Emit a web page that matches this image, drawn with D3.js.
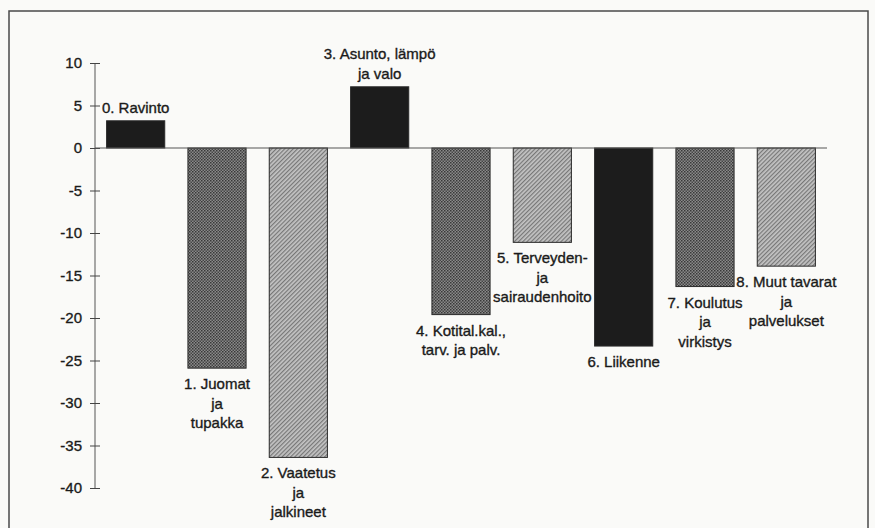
<!DOCTYPE html>
<html>
<head>
<meta charset="utf-8">
<script src="https://cdn.jsdelivr.net/npm/d3@7"></script>
<style>
    html, body { margin: 0; padding: 0; background: #fafaf8; }
    svg { display: block; }
</style>
</head>
<body>
<div id="container"></div>
<script>
const categories = ['0', '1', '2', '3', '4', '5', '6', '7', '8'];
const labelLines = [
    ['0. Ravinto'],
    ['1. Juomat', 'ja', 'tupakka'],
    ['2. Vaatetus', 'ja', 'jalkineet'],
    ['3. Asunto, lämpö', 'ja valo'],
    ['4. Kotital.kal.,', 'tarv. ja palv.'],
    ['5. Terveyden-', 'ja', 'sairaudenhoito'],
    ['6. Liikenne'],
    ['7. Koulutus', 'ja', 'virkistys'],
    ['8. Muut tavarat', 'ja', 'palvelukset']
];
const values = [3.2, -25.9, -36.4, 7.2, -19.6, -11.1, -23.3, -16.3, -13.9];
const fillKind = ['solid', 'cross', 'diag', 'solid', 'cross', 'diag', 'solid', 'cross', 'diag'];
const yTicks = [10, 5, 0, -5, -10, -15, -20, -25, -30, -35, -40];

const width = 875, height = 528;
const font = '"Liberation Sans", Arial, Helvetica, sans-serif';

const svg = d3.select('#container')
    .append('svg')
    .attr('width', width)
    .attr('height', height);

const defs = svg.append('defs');

// fine dark crosshatch (dotted look)
const cross = defs.append('pattern')
    .attr('id', 'cross')
    .attr('width', 3)
    .attr('height', 3)
    .attr('patternUnits', 'userSpaceOnUse');
cross.append('rect').attr('width', 3).attr('height', 3).attr('fill', '#8a8a8a');
cross.append('rect').attr('width', 1.5).attr('height', 1.5).attr('fill', '#383838');
cross.append('rect').attr('x', 1.5).attr('y', 1.5).attr('width', 1.5).attr('height', 1.5).attr('fill', '#464646');

// lighter diagonal hatch
const diag = defs.append('pattern')
    .attr('id', 'diag')
    .attr('width', 3)
    .attr('height', 3)
    .attr('patternUnits', 'userSpaceOnUse')
    .attr('patternTransform', 'rotate(45)');
diag.append('rect').attr('width', 3).attr('height', 3).attr('fill', '#c4c4c4');
diag.append('rect').attr('width', 1.2).attr('height', 3).attr('fill', '#777');

const fills = { solid: '#1c1c1c', cross: 'url(#cross)', diag: 'url(#diag)' };

// frame
svg.append('rect')
    .attr('x', 9)
    .attr('y', 11)
    .attr('width', 859)
    .attr('height', 530)
    .attr('fill', 'none')
    .attr('stroke', '#4a4a4a')
    .attr('stroke-width', 1.5);

const x = d3.scaleBand()
    .domain(categories)
    .range([95, 827])
    .paddingInner(0.285)
    .paddingOuter(0.1425);

const y = d3.scaleLinear()
    .domain([-40, 10])
    .range([488, 63]);

// y axis
const yAxis = svg.append('g')
    .attr('transform', 'translate(95,0)')
    .call(d3.axisLeft(y).tickValues(yTicks).tickSize(5).tickPadding(8).tickFormat(d => String(d)));
yAxis.select('.domain').attr('stroke', '#555').attr('d', `M0,${y(10)}V${y(-40)}`);
yAxis.selectAll('.tick line').attr('x1', -5).attr('x2', 5).attr('stroke', '#444');
yAxis.selectAll('.tick text')
    .style('font-family', font)
    .style('font-size', '15px')
    .attr('fill', '#1a1a1a')
    .attr('stroke', '#1a1a1a')
    .attr('stroke-width', 0.35);

// bars
svg.selectAll('.bar')
    .data(values)
    .enter()
    .append('rect')
    .attr('x', (d, i) => x(categories[i]))
    .attr('y', d => y(Math.max(0, d)))
    .attr('width', x.bandwidth())
    .attr('height', d => Math.abs(y(d) - y(0)))
    .attr('fill', (d, i) => fills[fillKind[i]])
    .attr('stroke', '#2a2a2a')
    .attr('stroke-width', 1);

// zero line
svg.append('line')
    .attr('x1', 95)
    .attr('x2', 827)
    .attr('y1', y(0))
    .attr('y2', y(0))
    .attr('stroke', '#555')
    .attr('stroke-width', 1.2);

// bar labels
const lineH = 19.5;
values.forEach((v, i) => {
    const cx = x(categories[i]) + x.bandwidth() / 2;
    const lines = labelLines[i];
    const t = svg.append('text')
        .attr('text-anchor', 'middle')
        .style('font-family', font)
        .style('font-size', '15px')
        .attr('fill', '#1a1a1a')
        .attr('stroke', '#1a1a1a')
        .attr('stroke-width', 0.35);
    const y0 = v >= 0
        ? y(v) - 8 - (lines.length - 1) * lineH
        : y(v) + 21;
    lines.forEach((ln, k) => {
        t.append('tspan')
            .attr('x', cx)
            .attr('y', y0 + k * lineH)
            .text(ln);
    });
});
</script>
</body>
</html>
